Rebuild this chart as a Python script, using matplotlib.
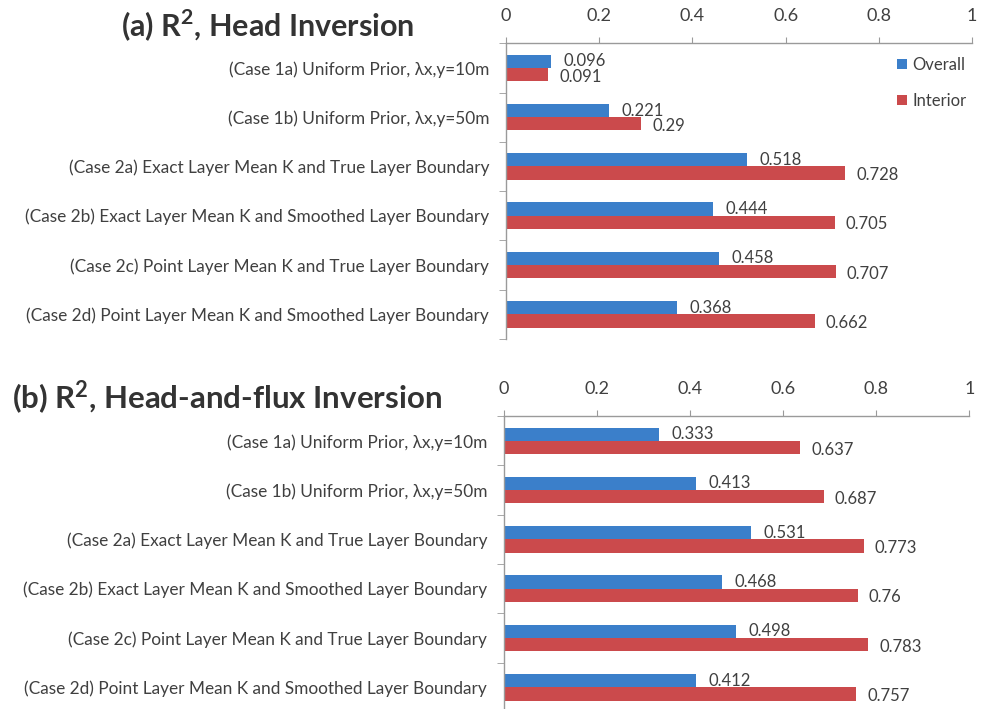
import matplotlib
matplotlib.use("Agg")
import matplotlib.pyplot as plt
import numpy as np
from matplotlib.ticker import FixedLocator

plt.rcParams['font.family'] = ['Lato', 'DejaVu Sans']
plt.rcParams['mathtext.fontset'] = 'custom'
plt.rcParams['mathtext.bf'] = 'Lato:bold'
plt.rcParams['mathtext.rm'] = 'Lato'

categories = [
    "(Case 1a) Uniform Prior, λx,y=10m",
    "(Case 1b) Uniform Prior, λx,y=50m",
    "(Case 2a) Exact Layer Mean K and True Layer Boundary",
    "(Case 2b) Exact Layer Mean K and Smoothed Layer Boundary",
    "(Case 2c) Point Layer Mean K and True Layer Boundary",
    "(Case 2d) Point Layer Mean K and Smoothed Layer Boundary",
]

head_overall = [0.096, 0.221, 0.518, 0.444, 0.458, 0.368]
head_interior = [0.091, 0.29, 0.728, 0.705, 0.707, 0.662]

flux_overall = [0.333, 0.413, 0.531, 0.468, 0.498, 0.412]
flux_interior = [0.637, 0.687, 0.773, 0.76, 0.783, 0.757]

x_ticks = [0, 0.2, 0.4, 0.6, 0.8, 1]
x_tick_labels = ["0", "0.2", "0.4", "0.6", "0.8", "1"]

BLUE = "#3b7fca"
RED = "#cb4a4c"
AXIS_GRAY = "#9a9a9a"
TEXT = "#404040"

fig = plt.figure(figsize=(9.88, 7.09), dpi=100)

def draw_panel(ax, overall, interior, legend=False):
    y = np.arange(len(categories))
    h = 0.27
    b1 = ax.barh(y - h / 2, overall, height=h, color=BLUE, label="Overall")
    b2 = ax.barh(y + h / 2, interior, height=h, color=RED, label="Interior")
    for rect, v in zip(b1, overall):
        ax.annotate(f"{v:g}", (v, rect.get_y() + rect.get_height() / 2),
                    xytext=(9, 0), textcoords="offset points",
                    ha="left", va="center", fontsize=12, color=TEXT)
    for rect, v in zip(b2, interior):
        ax.annotate(f"{v:g}", (v, rect.get_y() + rect.get_height() / 2),
                    xytext=(8, -1.5), textcoords="offset points",
                    ha="left", va="center", fontsize=12, color=TEXT)
    ax.set_xlim(0, 1)
    ax.set_ylim(len(categories) - 0.5, -0.5)
    ax.xaxis.set_ticks_position("top")
    ax.xaxis.set_label_position("top")
    ax.set_xticks(x_ticks)
    ax.set_xticklabels(x_tick_labels)
    ax.tick_params(axis="x", direction="out", length=4, color=AXIS_GRAY,
                   labelsize=13, labelcolor=TEXT, pad=10)
    ax.set_yticks(y)
    ax.set_yticklabels(categories)
    ax.yaxis.set_major_locator(FixedLocator(y))
    ax.yaxis.set_minor_locator(FixedLocator(np.arange(len(categories) + 1) - 0.5))
    ax.tick_params(axis="y", which="major", length=0, pad=12,
                   labelsize=12.4, labelcolor=TEXT)
    ax.tick_params(axis="y", which="minor", length=5, color=AXIS_GRAY,
                   direction="out")
    for s in ("right", "bottom"):
        ax.spines[s].set_visible(False)
    for s in ("top", "left"):
        ax.spines[s].set_color(AXIS_GRAY)
        ax.spines[s].set_linewidth(1.0)
    if legend:
        ax.legend(loc="upper right", bbox_to_anchor=(1.02, 1.005), frameon=False,
                  fontsize=12, labelcolor=TEXT, handlelength=0.6,
                  handleheight=0.6, handletextpad=0.3, labelspacing=1.2)

ax1 = fig.add_axes([0.512, 0.522, 0.472, 0.417])
draw_panel(ax1, head_overall, head_interior, legend=True)

ax2 = fig.add_axes([0.510, -0.004, 0.471, 0.417])
draw_panel(ax2, flux_overall, flux_interior)

fig.text(0.271, 0.965, r"(a) R$^{\mathbf{2}}$, Head Inversion", ha="center", va="center",
         fontsize=22, fontweight="bold", color="#333333")
fig.text(0.012, 0.438, r"(b) R$^{\mathbf{2}}$, Head-and-flux Inversion", ha="left", va="center",
         fontsize=22.5, fontweight="bold", color="#333333")

fig.savefig("out.png", dpi=100, facecolor="white")
